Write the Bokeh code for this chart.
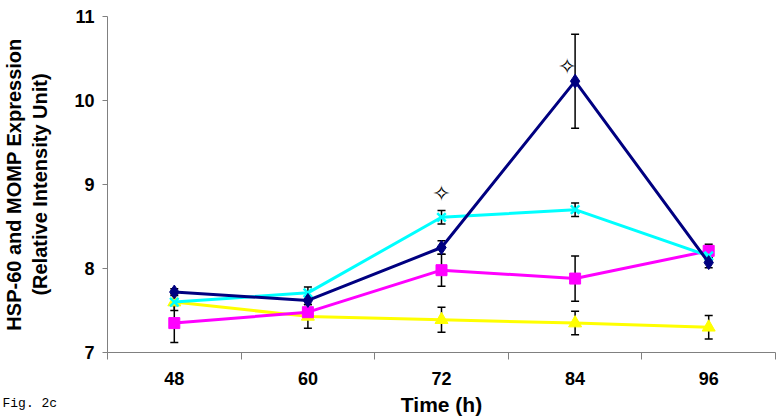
from bokeh.plotting import figure
from bokeh.models import FixedTicker, Whisker, ColumnDataSource, Title, Range1d
from bokeh.embed import file_html
from bokeh.resources import INLINE
from bokeh.core.properties import value

time_h = [48, 60, 72, 84, 96]
tick_labels = ["48", "60", "72", "84", "96"]
y_ticks = [7, 8, 9, 10, 11]

navy_mean = [7.72, 7.62, 8.25, 10.23, 8.07]
navy_err = [0.04, 0.05, 0.08, 0.56, 0.06]
cyan_mean = [7.60, 7.71, 8.61, 8.70, 8.15]
cyan_err = [0.04, 0.07, 0.08, 0.08, 0.06]
magenta_mean = [7.35, 7.48, 7.98, 7.88, 8.21]
magenta_err = [0.23, 0.05, 0.19, 0.27, 0.08]
yellow_mean = [7.60, 7.43, 7.39, 7.35, 7.30]
yellow_err = [0.10, 0.14, 0.15, 0.14, 0.14]

star_x = [72, 84]
star_y = [8.89, 10.40]

p = figure(width=778, height=418, x_range=Range1d(42, 102), y_range=Range1d(7, 11),
           output_backend="svg", toolbar_location=None,
           min_border_left=105, min_border_right=3, min_border_top=16, min_border_bottom=66)
p.outline_line_color = None
p.grid.visible = False
p.background_fill_color = "white"

# x axis
p.xaxis.ticker = FixedTicker(ticks=time_h, minor_ticks=[42, 54, 66, 78, 90, 102])
p.xaxis.major_label_overrides = {t: l for t, l in zip(time_h, tick_labels)}
p.xaxis.major_tick_out = 0
p.xaxis.major_tick_in = 0
p.xaxis.minor_tick_out = 7
p.xaxis.minor_tick_in = 0
p.xaxis.minor_tick_line_color = "#808080"
p.xaxis.axis_line_color = "#808080"
p.xaxis.major_label_standoff = 12
p.xaxis.major_label_text_font = "Liberation Sans"
p.xaxis.major_label_text_font_style = "bold"
p.xaxis.major_label_text_font_size = "18px"
p.xaxis.major_label_text_color = "black"
p.xaxis.axis_label = "Time (h)"
p.xaxis.axis_label_text_font = "Liberation Sans"
p.xaxis.axis_label_text_font_style = "bold"
p.xaxis.axis_label_text_font_size = "21px"
p.xaxis.axis_label_text_color = "black"
p.xaxis.axis_label_standoff = 5

# y axis
p.yaxis.ticker = FixedTicker(ticks=y_ticks, minor_ticks=[])
p.yaxis.major_tick_out = 5
p.yaxis.major_tick_in = 0
p.yaxis.major_tick_line_color = "#808080"
p.yaxis.axis_line_color = "#808080"
p.yaxis.major_label_standoff = 8
p.yaxis.major_label_text_font = "Liberation Sans"
p.yaxis.major_label_text_font_style = "bold"
p.yaxis.major_label_text_font_size = "18px"
p.yaxis.major_label_text_color = "black"
p.yaxis.axis_label = "HSP-60 and MOMP Expression\n(Relative Intensity Unit)"
p.yaxis.axis_label_text_font = "Liberation Sans"
p.yaxis.axis_label_text_font_style = "bold"
p.yaxis.axis_label_text_font_size = "20px"
p.yaxis.axis_label_text_color = "black"
p.yaxis.axis_label_standoff = 20

series = [
    ("yellow", "#FFFF00", yellow_mean, yellow_err, "triangle", 13),
    ("magenta", "#FF00FF", magenta_mean, magenta_err, "square", 11),
    ("cyan", "#00FFFF", cyan_mean, cyan_err, "x", 12),
    ("navy", "#000080", navy_mean, navy_err, "diamond", 14),
]

for name, color, mean, err, marker, size in series:
    src = ColumnDataSource(dict(
        x=time_h, y=mean,
        upper=[m + e for m, e in zip(mean, err)],
        lower=[m - e for m, e in zip(mean, err)],
    ))
    p.line("x", "y", source=src, line_color=color, line_width=3)
    p.scatter("x", "y", source=src, marker=marker, size=size,
              fill_color=color, line_color=color, line_width=2.5 if marker == "x" else 1)
    w = Whisker(source=src, base="x", upper="upper", lower="lower",
                line_color="black", line_width=1.5)
    w.upper_head.size = 8
    w.lower_head.size = 8
    w.upper_head.line_color = "black"
    w.lower_head.line_color = "black"
    w.upper_head.line_width = 1.5
    w.lower_head.line_width = 1.5
    p.add_layout(w)

star_src = ColumnDataSource(dict(x=star_x, y=star_y, t=["\u2727", "\u2727"], dx=[0, -8]))
p.text("x", "y", text="t", source=star_src, x_offset="dx", text_align="center",
       text_baseline="middle", text_font=value("DejaVu Sans"), text_font_size="22px",
       text_font_style="bold", text_color="black")

fig_title = Title(text="Fig. 2c", align="left", offset=-105, standoff=-46,
                  vertical_align="top", text_font="Liberation Mono",
                  text_font_size="13px", text_font_style="normal", text_color="black")
p.add_layout(fig_title, "below")

open("out.html", "w").write(file_html(p, INLINE))
